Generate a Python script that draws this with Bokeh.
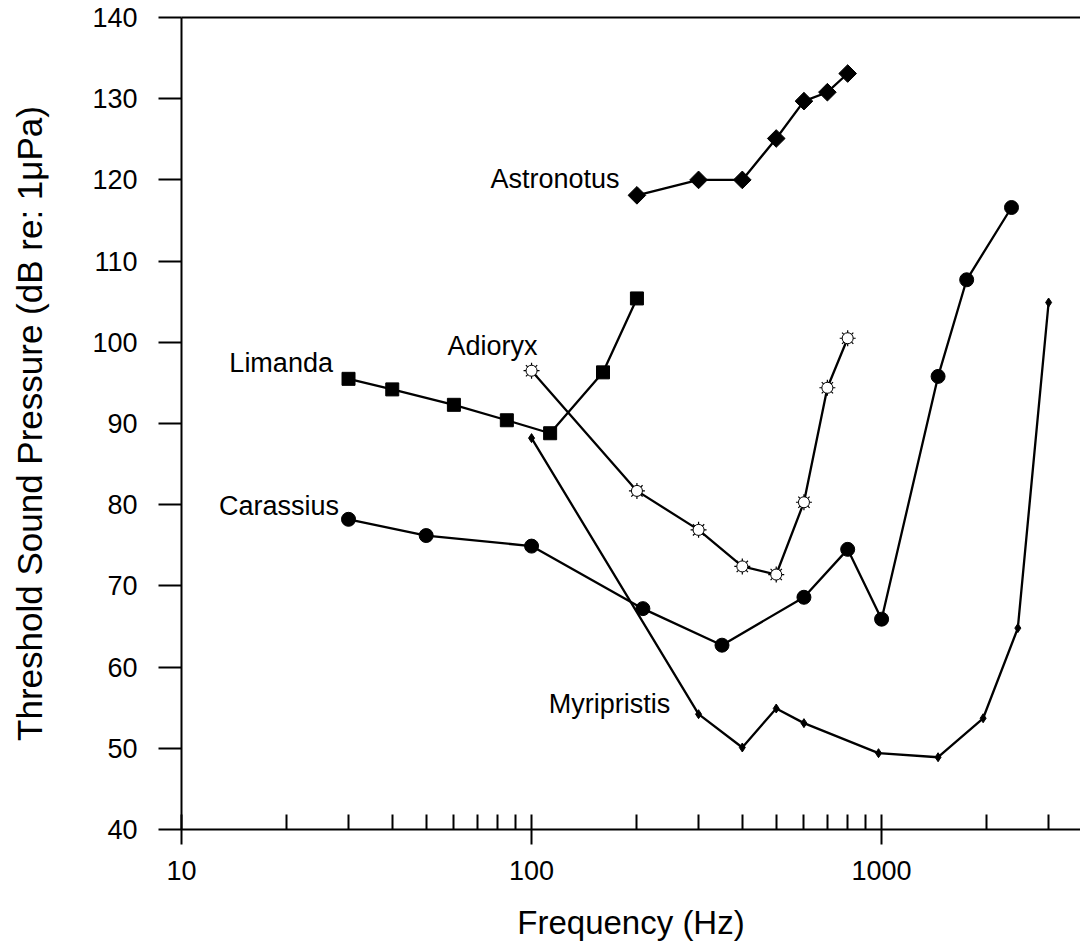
import numpy as np
from bokeh.plotting import figure
from bokeh.models import FixedTicker, LogAxis, NumeralTickFormatter, Label
from bokeh.embed import file_html
from bokeh.resources import INLINE

# ---------------- data ----------------
astro_f = [200, 300, 400, 500, 600, 700, 800]
astro_db = [118.1, 120.0, 120.0, 125.1, 129.7, 130.8, 133.1]

limanda_f = [30, 40, 60, 85, 113, 160, 200]
limanda_db = [95.5, 94.2, 92.3, 90.4, 88.8, 96.3, 105.4]

adioryx_f = [100, 200, 300, 400, 500, 600, 700, 800]
adioryx_db = [96.5, 81.7, 76.9, 72.4, 71.4, 80.3, 94.4, 100.5]

carassius_f = [30, 50, 100, 208, 350, 600, 800, 1000, 1450, 1750, 2350]
carassius_db = [78.2, 76.2, 74.9, 67.2, 62.7, 68.6, 74.5, 65.9, 95.8, 107.7, 116.6]

myri_f = [100, 300, 400, 500, 600, 980, 1450, 1950, 2450, 3000]
myri_db = [88.2, 54.2, 50.1, 54.9, 53.1, 49.4, 48.9, 53.7, 64.8, 104.9]

x_major = [10, 100, 1000]
x_minor = [20, 30, 40, 50, 60, 70, 80, 90,
           200, 300, 400, 500, 600, 700, 800, 900,
           2000, 3000]
y_ticks = [40, 50, 60, 70, 80, 90, 100, 110, 120, 130, 140]

FONT = "Liberation Sans"

p = figure(width=1080, height=943, x_axis_type="log",
           x_range=(10, 3700), y_range=(40, 140),
           output_backend="svg", toolbar_location=None,
           min_border_left=181, min_border_right=0,
           min_border_top=17, min_border_bottom=114)
p.outline_line_color = None
p.xgrid.grid_line_color = None
p.ygrid.grid_line_color = None

# x axis
xa = p.xaxis[0]
xa.ticker = FixedTicker(ticks=x_major, minor_ticks=x_minor)
xa.formatter = NumeralTickFormatter(format="0")
xa.axis_line_width = 2
xa.axis_line_color = "black"
xa.major_tick_line_width = 2
xa.minor_tick_line_width = 2
xa.major_tick_line_color = "black"
xa.minor_tick_line_color = "black"
xa.major_tick_in = 15
xa.major_tick_out = 15
xa.minor_tick_in = 15
xa.minor_tick_out = 0
xa.major_label_text_font = FONT
xa.major_label_text_font_size = "27px"
xa.major_label_text_color = "black"
xa.major_label_standoff = 16
xa.axis_label = "Frequency (Hz)"
xa.axis_label_text_font = FONT
xa.axis_label_text_font_size = "33px"
xa.axis_label_text_font_style = "normal"
xa.axis_label_text_color = "black"
xa.axis_label_standoff = 21

# y axis
ya = p.yaxis[0]
ya.ticker = FixedTicker(ticks=y_ticks, minor_ticks=[])
ya.axis_line_width = 2
ya.axis_line_color = "black"
ya.major_tick_line_width = 2
ya.major_tick_line_color = "black"
ya.minor_tick_line_color = None
ya.major_tick_in = 0
ya.major_tick_out = 23
ya.major_label_text_font = FONT
ya.major_label_text_font_size = "27px"
ya.major_label_text_color = "black"
ya.major_label_standoff = 21
ya.axis_label = "Threshold Sound Pressure (dB re: 1\u03bcPa)"
ya.axis_label_text_font = FONT
ya.axis_label_text_font_size = "35px"
ya.axis_label_text_font_style = "normal"
ya.axis_label_text_color = "black"
ya.axis_label_standoff = 40

# top frame line
top = LogAxis(ticker=FixedTicker(ticks=[], minor_ticks=[]),
              axis_line_width=2, axis_line_color="black",
              major_tick_line_color=None, minor_tick_line_color=None,
              major_label_text_font_size="0px")
p.add_layout(top, "above")

# ---------------- series ----------------
LW = 2.3
p.line(astro_f, astro_db, line_width=LW, color="black")
p.scatter(astro_f, astro_db, marker="square", angle=np.pi / 4, size=12.5,
          fill_color="black", line_color="black")

p.line(limanda_f, limanda_db, line_width=LW, color="black")
p.scatter(limanda_f, limanda_db, marker="square", size=13,
          fill_color="black", line_color="black")

p.line(carassius_f, carassius_db, line_width=LW, color="black")
p.scatter(carassius_f, carassius_db, marker="circle", size=14,
          fill_color="black", line_color="black")

p.line(myri_f, myri_db, line_width=LW, color="black")
p.scatter(myri_f, myri_db, marker="diamond", size=9,
          fill_color="black", line_color="black")

p.line(adioryx_f, adioryx_db, line_width=LW, color="black")
p.scatter(adioryx_f, adioryx_db, marker="asterisk", size=16,
          line_color="black", line_width=1.2)
p.scatter(adioryx_f, adioryx_db, marker="circle", size=11,
          fill_color="white", line_color="black", line_width=1)

# ---------------- species labels ----------------
for txt, lx, ly in [("Astronotus", 76.3, 120.05),
                    ("Limanda", 13.7, 97.4),
                    ("Adioryx", 57.5, 99.5),
                    ("Carassius", 12.8, 79.8),
                    ("Myripristis", 112, 55.5)]:
    p.add_layout(Label(x=lx, y=ly, text=txt, text_font=FONT,
                       text_font_size="27px", text_color="black",
                       text_align="left", text_baseline="alphabetic"))

open("out.html", "w").write(file_html(p, INLINE))
